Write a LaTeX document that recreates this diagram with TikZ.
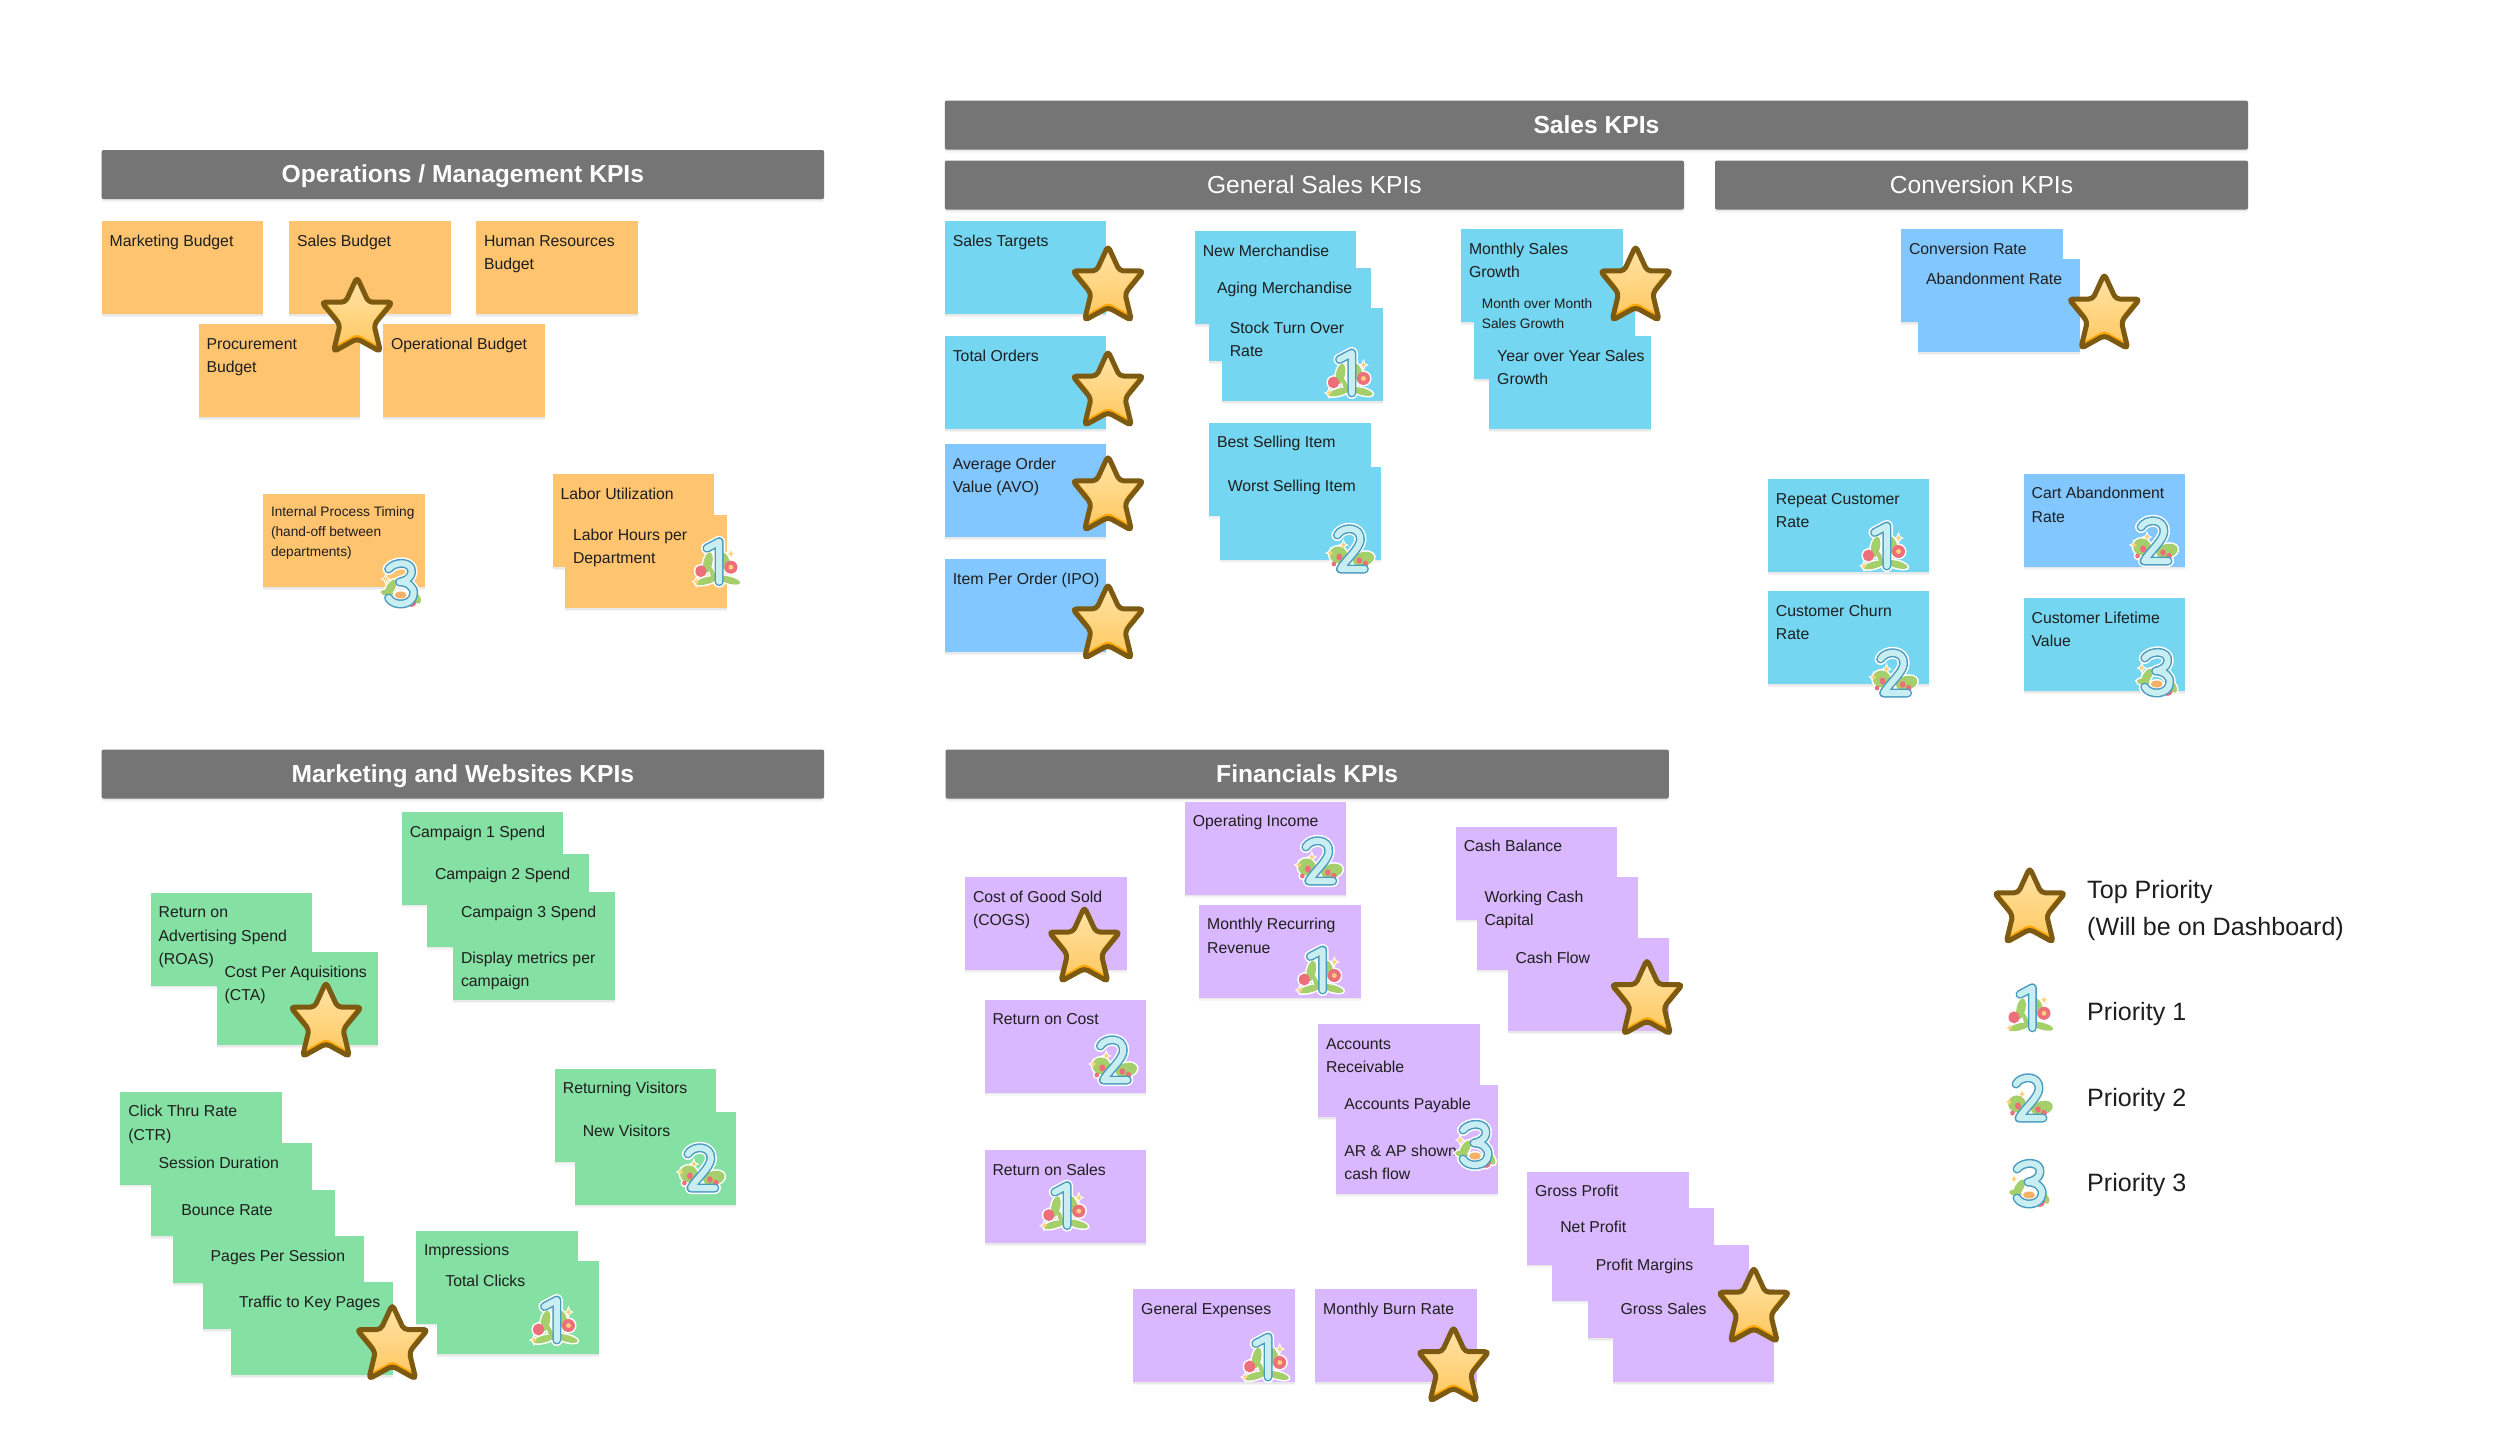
\documentclass[tikz,border=0pt]{standalone}
\usepackage{fontspec}
\setmainfont{Liberation Sans}
\usetikzlibrary{shadows}
\definecolor{hdrgray}{HTML}{757575}
\definecolor{kpiorange}{HTML}{FFC470}
\definecolor{kpiteal}{HTML}{74D6F0}
\definecolor{kpiblue}{HTML}{82C7FF}
\definecolor{kpigreen}{HTML}{85E0A3}
\definecolor{kpipurple}{HTML}{D9B8FF}
\definecolor{inkcol}{HTML}{1E1E1E}
\definecolor{starbrown}{HTML}{7D5A12}
\definecolor{starorange}{HTML}{FFA500}
\definecolor{startop}{HTML}{FFE6AE}
\definecolor{starbot}{HTML}{FFC962}
\definecolor{digitblue}{HTML}{4A9BC0}
\definecolor{digitpale}{HTML}{C9EEF2}
\definecolor{leafgreen}{HTML}{A5CF6A}
\definecolor{petalred}{HTML}{EE6F7C}
\definecolor{sparkyellow}{HTML}{FFD27A}
\definecolor{boworange}{HTML}{F5B266}
\tikzset{
  softshadow/.style={drop shadow={shadow xshift=0pt,shadow yshift=-3pt,opacity=.04,fill=black},drop shadow={shadow xshift=0pt,shadow yshift=-1.5pt,opacity=.05,fill=black}},
  stickybox/.style={rectangle,anchor=north west,inner sep=0pt,outer sep=0pt,minimum width=161.5pt,softshadow,text=inkcol},
  headerbar/.style={rectangle,rounded corners=2pt,anchor=north west,inner sep=0pt,outer sep=0pt,fill=hdrgray,text=white,minimum height=49pt,softshadow,text height=20pt,text depth=3.4pt,font=\fontsize{24.6}{28}\selectfont\bfseries},
  headerlight/.style={headerbar,font=\fontsize{24.6}{28}\selectfont},
  legendtext/.style={anchor=base west,inner sep=0pt,text=inkcol,font=\fontsize{25.1}{37}\selectfont},
  lf/.style={fill=leafgreen},
  rd/.style={fill=petalred},
  sp/.style={fill=sparkyellow},
  bw/.style={fill=boworange},
  ct/.style={fill=sparkyellow},
  halo/.style={lf/.style={fill=white,draw=white,line width=3pt},rd/.style={fill=white,draw=white,line width=3pt},sp/.style={fill=white,draw=white,line width=2pt},bw/.style={fill=white,draw=white,line width=3pt},ct/.style={fill=white}},
  digithalo/.style={draw=white,line width=12pt,line cap=round,line join=round},
  digitline/.style={draw=digitblue,line width=9pt,line cap=round,line join=round},
  digitfill/.style={draw=digitpale,line width=6pt,line cap=round,line join=round},
}
\newcommand{\kblob}[6]{\path[#6,rotate around={#3:(#1,#2)}] (#1,#2) ellipse [x radius=#4,y radius=#5];}
\newcommand{\kspark}[2]{\path[sp] (#1,#2-3.5) -- (#1+1,#2-1) -- (#1+3,#2) -- (#1+1,#2+1) -- (#1,#2+3.5) -- (#1-1,#2+1) -- (#1-3,#2) -- (#1-1,#2-1) -- cycle;}
\newcommand{\decorone}{%
  \kblob{-8.5}{1}{-12}{4.5}{10.5}{lf}\kblob{9.5}{1}{15}{4}{10.5}{lf}
  \kblob{-10}{19}{15}{11}{3.5}{lf}\kblob{13}{18.5}{-15}{11}{3.5}{lf}\kblob{-4}{12}{20}{2.2}{7.5}{lf}
  \kblob{-15.5}{9.5}{0}{5.5}{6}{rd}\kblob{14.5}{5.5}{0}{6.5}{6.5}{rd}\kblob{14.5}{5.5}{0}{2.4}{2.4}{ct}\kspark{14.5}{-8}\kspark{-20}{20}}
\newcommand{\decortwo}{%
  \kblob{-13}{6}{-20}{9}{8.5}{lf}\kblob{12}{10}{15}{11}{7}{lf}
  \kblob{-12}{8}{0}{3}{3.5}{rd}\kblob{-17.5}{15}{0}{2.3}{2.5}{rd}\kblob{8}{11.5}{0}{2.8}{3.2}{rd}\kblob{14}{15}{0}{2.8}{3.2}{rd}
  \kspark{-8}{-4}\kspark{-21}{4}}
\newcommand{\decorthree}{%
  \kblob{-9}{4}{-30}{4.2}{9.5}{lf}\kblob{-12.5}{9}{80}{3}{6.5}{lf}\kblob{17}{14}{30}{3.5}{6.5}{lf}
  \kblob{1}{11}{0}{6}{3.5}{bw}\kblob{12}{18}{0}{5}{5}{rd}\kspark{-14}{-5}}
\newcommand{\pathone}{(-9.5,-13.5) -- (2.8,-20) -- (2.8,20)}
\newcommand{\pathtwo}{(-14,-14) .. controls (-9,-23) and (10,-23) .. (9,-9) .. controls (8,0) and (-5,10) .. (-11,20) -- (13,20)}
\newcommand{\paththree}{(-11,-15) .. controls (-5,-23) and (13,-23) .. (12,-12) .. controls (11,-5) and (5,-3) .. (0,-2) .. controls (8,-2) and (15,3) .. (14,10) .. controls (13,22) and (-6,23) .. (-11,14)}
\tikzset{
  numone/.pic={\begin{scope}[halo]\decorone\end{scope}\path[digithalo] \pathone;\decorone\path[digitline] \pathone;\path[digitfill] \pathone;},
  numtwo/.pic={\begin{scope}[halo]\decortwo\end{scope}\path[digithalo] \pathtwo;\decortwo\path[digitline] \pathtwo;\path[digitfill] \pathtwo;},
  numthree/.pic={\begin{scope}[halo]\decorthree\end{scope}\path[digithalo] \paththree;\decorthree\path[digitline] \paththree;\path[digitfill] \paththree;},
  kpistar/.pic={
    \def\starpts{(0,-37.5) -- (11.5,-12.5) -- (35.5,-12.5) -- (17,10) -- (23.5,37) -- (0,24) -- (-23.5,37) -- (-17,10) -- (-35.5,-12.5) -- (-11.5,-12.5) -- cycle}
    \fill[starorange,rounded corners=4pt] \starpts;
    \begin{scope}
      \clip[rounded corners=4pt] \starpts;
      \shade[top color=startop,bottom color=starbot,rounded corners=4pt,yshift=5pt] \starpts;
    \end{scope}
    \draw[starbrown,line width=5pt,rounded corners=4pt,line join=round] \starpts;
  },
}
\newcommand{\sticky}[6][93]{\node[stickybox,fill=#5,minimum height=#1pt] (#2) at (#3,#4) {\parbox[t][#1pt][t]{161.5pt}{\fontsize{15.8}{23.3}\selectfont\raggedright\leftskip=8pt\rule{0pt}{25.2pt}#6}};}
\newcommand{\stickysmall}[6][93]{\node[stickybox,fill=#5,minimum height=#1pt] (#2) at (#3,#4) {\parbox[t][#1pt][t]{161.5pt}{\fontsize{13.7}{20}\selectfont\raggedright\leftskip=8pt\rule{0pt}{22pt}#6}};}
\begin{document}
\begin{tikzpicture}[x=1pt,y=-1pt]
\useasboundingbox (0,0) rectangle (2500,1440);
\fill[white] (0,0) rectangle (2500,1440);
% headers
\node[headerbar,minimum width=722.5pt] (opsh) at (101.6,150) {Operations / Management KPIs};
\node[headerbar,minimum width=1303.2pt] (salesh) at (944.8,100.5) {Sales KPIs};
\node[headerlight,minimum width=739.2pt] (gensh) at (944.8,160.5) {General Sales KPIs};
\node[headerlight,minimum width=533pt] (convh) at (1715,160.5) {Conversion KPIs};
% operations
\sticky{o1}{101.6}{221}{kpiorange}{Marketing Budget}
\sticky{o2}{289}{221}{kpiorange}{Sales Budget}
\sticky{o3}{476}{221}{kpiorange}{Human Resources\\Budget}
\sticky{o4}{198.5}{324.3}{kpiorange}{Procurement\\Budget}
\sticky{o5}{383}{324.3}{kpiorange}{Operational Budget}
\stickysmall{o6}{263}{494.3}{kpiorange}{Internal Process Timing\\(hand-off between\\departments)}
\sticky{o7}{552.5}{474}{kpiorange}{Labor Utilization}
\sticky{o8}{565}{515}{kpiorange}{Labor Hours per\\Department}
% general sales
\sticky{s1}{944.8}{221.3}{kpiteal}{Sales Targets}
\sticky{s2}{944.8}{336}{kpiteal}{Total Orders}
\sticky{s3}{944.8}{444.4}{kpiblue}{Average Order\\Value (AVO)}
\sticky{s4}{944.8}{559.2}{kpiblue}{Item Per Order (IPO)}
\sticky{s5}{1194.8}{231.2}{kpiteal}{New Merchandise}
\sticky{s6}{1209}{268.3}{kpiteal}{Aging Merchandise}
\sticky{s7}{1221.8}{308.1}{kpiteal}{Stock Turn Over\\Rate}
\sticky{s8}{1209}{422.6}{kpiteal}{Best Selling Item}
\sticky{s9}{1219.8}{466.6}{kpiteal}{Worst Selling Item}
\sticky{s10}{1461}{229}{kpiteal}{Monthly Sales\\Growth}
\stickysmall{s11}{1473.9}{286.4}{kpiteal}{Month over Month\\Sales Growth}
\sticky{s12}{1489.2}{336}{kpiteal}{Year over Year Sales\\Growth}
% conversion
\sticky{c1}{1901}{229.2}{kpiblue}{Conversion Rate}
\sticky{c2}{1918}{259.2}{kpiblue}{Abandonment Rate}
\sticky{c3}{1767.9}{479}{kpiteal}{Repeat Customer\\Rate}
\sticky{c4}{1767.9}{591}{kpiteal}{Customer Churn\\Rate}
\sticky{c5}{2023.6}{473.5}{kpiblue}{Cart Abandonment\\Rate}
\sticky{c6}{2023.6}{598.4}{kpiteal}{Customer Lifetime\\Value}
\begin{scope}[yshift=1.3pt]
\node[headerbar,minimum width=722.5pt] (markh) at (101.6,750.8) {Marketing and Websites KPIs};
\node[headerbar,minimum width=723.3pt] (finh) at (945.5,750.8) {Financials KPIs};
% marketing
\sticky{m1}{401.8}{813.1}{kpigreen}{Campaign 1 Spend}
\sticky{m2}{427}{855.2}{kpigreen}{Campaign 2 Spend}
\sticky[108.2]{m3}{453}{893.1}{kpigreen}{Campaign 3 Spend\\\mbox{}\\Display metrics per\\campaign}
\sticky{m4}{150.7}{893.9}{kpigreen}{Return on\\Advertising Spend\\(ROAS)}
\sticky{m5}{216.6}{953.3}{kpigreen}{Cost Per Aquisitions\\(CTA)}
\sticky{m6}{120.4}{1093}{kpigreen}{Click Thru Rate\\(CTR)}
\sticky{m7}{150.7}{1144.4}{kpigreen}{Session Duration}
\sticky{m8}{173.3}{1191.5}{kpigreen}{Bounce Rate}
\sticky{m9}{202.7}{1237.4}{kpigreen}{Pages Per Session}
\sticky{m10}{231}{1283.7}{kpigreen}{Traffic to Key Pages}
\sticky{m11}{554.9}{1069.9}{kpigreen}{Returning Visitors}
\sticky{m12}{574.8}{1112.8}{kpigreen}{New Visitors}
\sticky{m13}{416}{1231.9}{kpigreen}{Impressions}
\sticky{m14}{437.4}{1262.6}{kpigreen}{Total Clicks}
% financials
\sticky{f1}{1184.9}{803}{kpipurple}{Operating Income}
\sticky{f2}{965}{878.2}{kpipurple}{Cost of Good Sold\\(COGS)}
\sticky{f3}{1199.2}{906}{kpipurple}{Monthly Recurring\\Revenue}
\sticky{f4}{984.5}{1000.9}{kpipurple}{Return on Cost}
\sticky{f5}{984.5}{1151.3}{kpipurple}{Return on Sales}
\sticky{f6}{1455.8}{827.8}{kpipurple}{Cash Balance}
\sticky{f7}{1476.5}{878.2}{kpipurple}{Working Cash\\Capital}
\sticky{f8}{1507.5}{939.3}{kpipurple}{Cash Flow}
\sticky{f9}{1318}{1025.6}{kpipurple}{Accounts\\Receivable}
\sticky[109]{f10}{1336.4}{1085.9}{kpipurple}{Accounts Payable\\\mbox{}\\AR \& AP shown\\cash flow}
\sticky{f11}{1527}{1173}{kpipurple}{Gross Profit}
\sticky{f12}{1552.3}{1209}{kpipurple}{Net Profit}
\sticky{f13}{1587.9}{1246.6}{kpipurple}{Profit Margins}
\sticky{f14}{1612.5}{1290.6}{kpipurple}{Gross Sales}
\sticky{f15}{1133.2}{1290.6}{kpipurple}{General Expenses}
\sticky{f16}{1315.2}{1290.6}{kpipurple}{Monthly Burn Rate}
\end{scope}
% stars
\foreach \sx/\sy in {357/314.7,1108/283.4,1108/388.5,1108/493.3,1108/621.4,1635.6/283.4,2104.3/311.5,326/1019.6,392.3/1342,1084.4/944.5,1647/997,1753.8/1304.7,1453.5/1364.2,2029.7/905.3}
  \pic at (\sx,\sy) {kpistar};
% priority 1
\foreach \sx/\sy in {716.4/561.7,1349/373,1884/546,554/1320,1319.8/970,1064.3/1205.6,1265.2/1357,2029.5/1007.8}
  \pic at (\sx,\sy) {numone};
% priority 2
\foreach \sx/\sy in {1351.4/549,1894.6/673,2155/541,701.9/1168,1319.8/861,1114.3/1060,2030/1098}
  \pic at (\sx,\sy) {numtwo};
% priority 3
\foreach \sx/\sy in {399.6/584,2155.7/673,1474/1145,2028/1184}
  \pic at (\sx,\sy) {numthree};
% legend
\node[legendtext] (l0a) at (2087,898.8) {Top Priority};
\node[legendtext] (l0b) at (2087,935.8) {(Will be on Dashboard)};
\node[legendtext] (l1) at (2087,1020.8) {Priority 1};
\node[legendtext] (l2) at (2087,1106.5) {Priority 2};
\node[legendtext] (l3) at (2087,1191.8) {Priority 3};
\end{tikzpicture}
\end{document}
